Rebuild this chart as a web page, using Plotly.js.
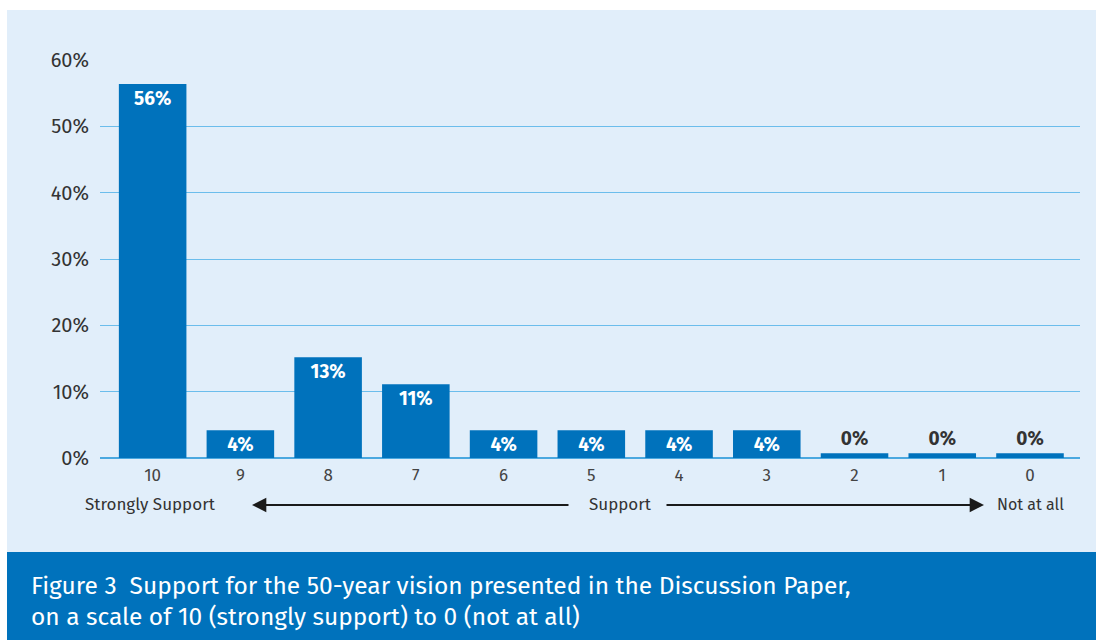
<!DOCTYPE html>
<html>
<head>
<meta charset="utf-8">
<script src="https://cdn.plot.ly/plotly-3.0.1.min.js"></script>
<style>html,body{margin:0;padding:0;background:#fff;}#chart{width:1096px;height:640px;}</style>
</head>
<body>
<div id="chart"></div>
<script>
// Data
const categories = ["10", "9", "8", "7", "6", "5", "4", "3", "2", "1", "0"];
const values = [56.4, 4.2, 15.2, 11.1, 4.2, 4.2, 4.2, 4.2, 0.7, 0.7, 0.7];
const valueLabels = ["56%", "4%", "13%", "11%", "4%", "4%", "4%", "4%", "0%", "0%", "0%"];
const yTickValues = [0, 10, 20, 30, 40, 50, 60];
const yTickLabels = ["0%", "10%", "20%", "30%", "40%", "50%", "60%"];
const captionLines = ["Figure 3  Support for the 50-year vision presented in the Discussion Paper,", "on a scale of 10 (strongly support) to 0 (not at all)"];

const FONT = "Fira Sans, Noto Sans, Open Sans, sans-serif";
const BAR = "#0072bc";
const BG = "#e1eefa";

// plot area geometry (pixels) -> paper helpers
const L = 100, R = 1080, T = 60, B = 458, W = 1096, H = 640;
const px = x => (x - L) / (R - L);
const py = y => (B - y) / (B - T);

const textPos = values.map(v => v < 2 ? "outside" : "inside");
const textCol = values.map(v => v < 2 ? "#333333" : "#ffffff");

const trace = {
  type: "bar",
  x: categories,
  y: values,
  text: valueLabels,
  textposition: textPos,
  insidetextanchor: "end",
  constraintext: "none",
  textfont: {family: FONT, size: 19, color: textCol, weight: 700},
  marker: {color: BAR},
  cliponaxis: false,
  hoverinfo: "none"
};

const layout = {
  width: W, height: H,
  margin: {l: L, r: W - R, t: T, b: H - B, pad: 0},
  paper_bgcolor: "#ffffff",
  plot_bgcolor: "rgba(0,0,0,0)",
  bargap: 0.23,
  showlegend: false,
  font: {family: FONT, color: "#333333"},
  xaxis: {
    type: "category",
    range: [-0.6, 10.57],
    showgrid: false,
    zeroline: false,
    showline: false,
    ticks: "",
    tickfont: {family: FONT, size: 17, color: "#444444"},
    ticklabelstandoff: 5,
    fixedrange: true
  },
  yaxis: {
    range: [0, 60],
    tickvals: yTickValues,
    ticktext: yTickLabels,
    showgrid: true,
    gridcolor: "#6bbdec",
    gridwidth: 1,
    zeroline: true,
    zerolinecolor: "#4aa8e0",
    zerolinewidth: 1.5,
    showline: false,
    ticks: "",
    ticklabelstandoff: 10,
    tickfont: {family: FONT, size: 20, color: "#333333"},
    fixedrange: true
  },
  shapes: [
    {type: "rect", xref: "paper", yref: "paper", x0: px(7), x1: px(1096), y0: py(552), y1: py(10),
     fillcolor: BG, line: {width: 0}, layer: "below"},
    {type: "rect", xref: "paper", yref: "paper", x0: px(7), x1: px(1096), y0: py(640), y1: py(552),
     fillcolor: BAR, line: {width: 0}, layer: "below"}
  ],
  annotations: [
    {xref: "paper", yref: "paper", x: px(150), y: py(505), text: "Strongly Support", showarrow: false,
     font: {family: FONT, size: 17, color: "#333333"}, xanchor: "center", yanchor: "middle"},
    {xref: "paper", yref: "paper", x: px(620), y: py(505), text: "Support", showarrow: false,
     font: {family: FONT, size: 17, color: "#333333"}, xanchor: "center", yanchor: "middle"},
    {xref: "paper", yref: "paper", x: px(1030), y: py(505), text: "Not at all", showarrow: false,
     font: {family: FONT, size: 16, color: "#333333"}, xanchor: "center", yanchor: "middle"},
    {xref: "paper", yref: "paper", axref: "paper", ayref: "paper",
     x: px(252), y: py(505), ax: px(570), ay: py(505), text: "", showarrow: true,
     arrowhead: 2, arrowsize: 1.3, arrowwidth: 2.2, arrowcolor: "#1a1a1a", standoff: 0, startstandoff: 0},
    {xref: "paper", yref: "paper", axref: "paper", ayref: "paper",
     x: px(984), y: py(505), ax: px(665), ay: py(505), text: "", showarrow: true,
     arrowhead: 2, arrowsize: 1.3, arrowwidth: 2.2, arrowcolor: "#1a1a1a", standoff: 0, startstandoff: 0},
    {xref: "paper", yref: "paper", x: px(29), y: py(585), text: captionLines[0], showarrow: false,
     font: {family: FONT, size: 24.5, color: "#ffffff"}, xanchor: "left", yanchor: "middle"},
    {xref: "paper", yref: "paper", x: px(29), y: py(616), text: captionLines[1], showarrow: false,
     font: {family: FONT, size: 24.5, color: "#ffffff"}, xanchor: "left", yanchor: "middle"}
  ]
};

Plotly.newPlot("chart", [trace], layout, {displayModeBar: false, staticPlot: true});
</script>
</body>
</html>
